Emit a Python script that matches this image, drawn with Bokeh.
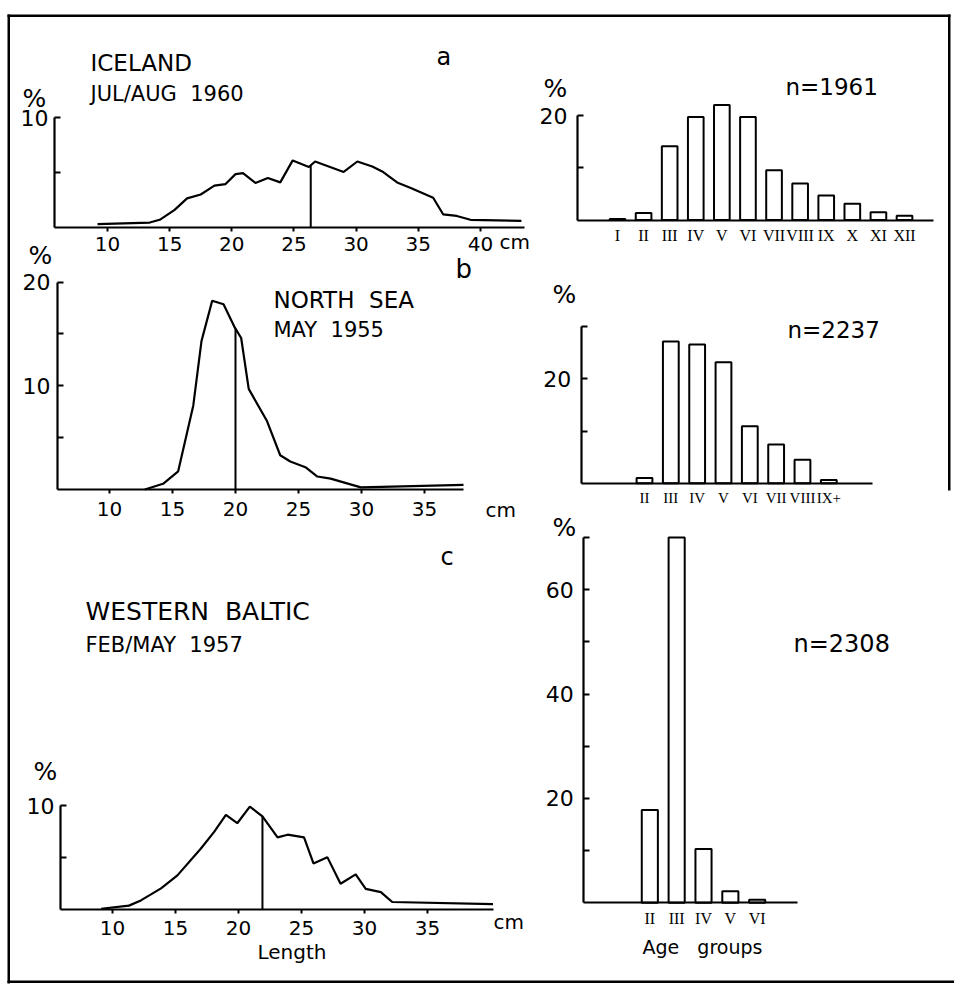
import numpy as np
from bokeh.plotting import figure
from bokeh.models import Range1d, LinearAxis, FixedTicker, Label, BoxAnnotation
from bokeh.embed import file_html
from bokeh.resources import INLINE

# ---------------- data ----------------
# a: Iceland, Jul/Aug 1960
len_a = [9.2, 13.4, 14.2, 15.4, 16.4, 17.5, 18.6, 19.5, 20.3, 20.9, 21.9, 22.9, 23.9, 24.9,
         26.2, 26.7, 29.0, 30.1, 31.3, 32.1, 33.3, 34.4, 36.2, 37.0, 38.1, 39.2, 43.3]
pct_a = [0.3, 0.45, 0.7, 1.6, 2.65, 3.0, 3.8, 3.95, 4.85, 4.95, 4.05, 4.5, 4.1, 6.1,
         5.5, 6.0, 5.05, 6.0, 5.55, 5.1, 4.1, 3.6, 2.7, 1.2, 1.05, 0.7, 0.6]
median_a = 26.35
ages_a = ["I", "II", "III", "IV", "V", "VI", "VII", "VIII", "IX", "X", "XI", "XII"]
agepct_a = [0.2, 1.35, 14.1, 19.7, 22.0, 19.7, 9.5, 7.0, 4.7, 3.1, 1.5, 0.8]
n_a = 1961

# b: North Sea, May 1955
len_b = [12.8, 14.25, 15.45, 16.65, 17.3, 18.15, 19.05, 19.95, 20.45, 21.05, 22.5, 23.55,
         24.35, 25.55, 26.5, 27.55, 29.95, 38.1]
pct_b = [0.0, 0.55, 1.75, 8.1, 14.3, 18.2, 17.85, 15.6, 14.6, 9.7, 6.6, 3.3,
         2.7, 2.15, 1.25, 1.05, 0.2, 0.45]
median_b = 20.0
ages_b = ["II", "III", "IV", "V", "VI", "VII", "VIII", "IX+"]
agepct_b = [1.0, 27.2, 26.6, 23.2, 10.9, 7.4, 4.5, 0.6]
n_b = 2237

# c: Western Baltic, Feb/May 1957
len_c = [9.1, 11.3, 12.25, 13.85, 15.15, 17.0, 18.05, 19.0, 19.9, 20.9, 21.9, 23.1, 23.9,
         25.2, 25.95, 27.05, 28.1, 29.3, 30.1, 31.3, 32.2, 40.2]
pct_c = [0.1, 0.4, 0.9, 2.05, 3.3, 5.85, 7.45, 9.1, 8.3, 9.9, 8.95, 6.95, 7.2,
         6.95, 4.45, 5.05, 2.5, 3.4, 2.0, 1.7, 0.75, 0.55]
median_c = 21.9
ages_c = ["II", "III", "IV", "V", "VI"]
agepct_c = [17.8, 70.0, 10.3, 2.2, 0.6]
n_c = 2308

len_ticks_a = [10, 15, 20, 25, 30, 35, 40]
len_ticks_bc = [10, 15, 20, 25, 30, 35]

# ---------------- page / figure ----------------
OX, OY = 0, 0          # page offset of the canvas
W, H = 954, 984

p = figure(width=W, height=H, output_backend="svg", toolbar_location=None,
           x_range=Range1d(OX, OX + W), y_range=Range1d(OY + H, OY),
           x_axis_type=None, y_axis_type=None,
           min_border_left=0, min_border_right=0, min_border_top=0, min_border_bottom=0)
p.outline_line_color = None
p.background_fill_color = "white"
p.border_fill_color = "white"

xr, yr = {}, {}


def add_panel(name, fl, fr, xs, xe, fb, ft, ys, ye):
    """Panel with data x in [xs, xe] over page px [fl, fr], data y in [ys, ye] over page px [fb, ft]."""
    kx = (xe - xs) / (fr - fl)
    ky = (ye - ys) / (fb - ft)
    xr[name] = Range1d(xs - (fl - OX) * kx, xe + (OX + W - fr) * kx)
    yr[name] = Range1d(ys - (OY + H - fb) * ky, ye + (ft - OY) * ky)


FONT = "DejaVu Sans"
SERIF = "Liberation Serif"


def x_axis(name, ticks, lo, hi, overrides=None, font=FONT, size="20px", standoff=5, tick_out=4):
    ax = LinearAxis(x_range_name=name, y_range_name=name, fixed_location=0, bounds=(lo, hi),
                    ticker=FixedTicker(ticks=ticks, minor_ticks=[]))
    ax.axis_line_width = 2.2
    ax.axis_line_color = "black"
    ax.major_tick_out = tick_out
    ax.major_tick_in = 0
    ax.minor_tick_out = 0
    ax.minor_tick_in = 0
    ax.major_tick_line_width = 2
    ax.major_label_standoff = standoff
    ax.major_label_text_font = font
    ax.major_label_text_font_size = size
    ax.major_label_text_color = "black"
    if overrides:
        ax.major_label_overrides = overrides
    p.add_layout(ax, "below")


def y_axis(name, loc, ticks, top, labelled, standoff=6, size="22px"):
    ax = LinearAxis(x_range_name=name, y_range_name=name, fixed_location=loc, bounds=(0, top),
                    ticker=FixedTicker(ticks=ticks, minor_ticks=[]))
    ax.axis_line_width = 2.2
    ax.axis_line_color = "black"
    ax.major_tick_out = 0
    ax.major_tick_in = 6
    ax.minor_tick_out = 0
    ax.minor_tick_in = 0
    ax.major_tick_line_width = 2
    ax.major_label_standoff = standoff
    ax.major_label_text_font = FONT
    ax.major_label_text_font_size = size
    ax.major_label_text_color = "black"
    ax.major_label_overrides = {t: (str(t) if t in labelled else "") for t in ticks}
    p.add_layout(ax, "left")


def length_panel(name, lens, pcts, median):
    p.line(lens, pcts, x_range_name=name, y_range_name=name,
           line_color="black", line_width=2.2)
    top = float(np.interp(median, lens, pcts))
    p.segment(x0=[median], y0=[0], x1=[median], y1=[top], x_range_name=name, y_range_name=name,
              line_color="black", line_width=2)


def age_panel(name, ages, pcts, first):
    pos = list(range(first, first + len(ages)))
    p.vbar(x=pos, top=pcts, bottom=0, width=0.6, x_range_name=name, y_range_name=name,
           fill_color="white", line_color="black", line_width=2)
    return pos


TY = -9  # baseline correction for labels
NB = "\u00a0"  # keeps the wide gaps of the lettering (SVG collapses runs of spaces)


def txt(x, y, s, size, font=FONT, align="left"):
    p.add_layout(Label(x=x, y=y + TY, text=s, text_font=font, text_font_size=f"{size}px",
                       text_baseline="alphabetic", text_align=align, text_color="black"))


# ---- panel a ----
ax0, ax1 = 10 - 53 / 12.43, 10 + 417 / 12.43
add_panel("A1", 54, 524, ax0, ax1, 227, 117, 0, 10)
length_panel("A1", len_a, pct_a, median_a)
x_axis("A1", len_ticks_a, ax0, ax1, standoff=5)
y_axis("A1", ax0, [5, 10], 10, [10])

a0, a1 = 1 - 40 / 26.1, 12 + 29 / 26.1
add_panel("A2", 577, 933, a0, a1, 219.5, 115, 0, 20)
pos_a = age_panel("A2", ages_a, agepct_a, 1)
x_axis("A2", pos_a, a0, a1, overrides=dict(zip(pos_a, ages_a)),
       font=SERIF, size="16px", standoff=7, tick_out=0)
y_axis("A2", a0, [10, 20], 20, [20], standoff=10)

# ---- panel b ----
bx0, bx1 = 5.87, 38.1
add_panel("B1", 57, 463, bx0, bx1, 489, 281.5, 0, 20)
length_panel("B1", len_b, pct_b, median_b)
x_axis("B1", len_ticks_bc, bx0, bx1, standoff=8)
y_axis("B1", bx0, [5, 10, 15, 20], 20, [10, 20], standoff=7)

b0, b1 = 2 - 63.3 / 26.33, 9 + 43.4 / 26.33
add_panel("B2", 580.7, 871.7, b0, b1, 482.7, 326.3, 0, 30)
pos_b = age_panel("B2", ages_b, agepct_b, 2)
x_axis("B2", pos_b, b0, b1, overrides=dict(zip(pos_b, ages_b)),
       font=SERIF, size="15px", standoff=7, tick_out=0)
y_axis("B2", b0, [10, 20, 30], 30, [20], standoff=10)

# ---- panel c ----
cx0, cx1 = 5.87, 40.24
add_panel("C1", 60, 493, cx0, cx1, 909.3, 805, 0, 10)
length_panel("C1", len_c, pct_c, median_c)
x_axis("C1", len_ticks_bc, cx0, cx1, standoff=7)
y_axis("C1", cx0, [5, 10], 10, [10], standoff=6)

c0, c1 = 2 - 66 / 26.83, 6 + 40 / 26.83
add_panel("C2", 583.3, 796.7, c0, c1, 902.3, 537, 0, 70)
pos_c = age_panel("C2", ages_c, agepct_c, 2)
x_axis("C2", pos_c, c0, c1, overrides=dict(zip(pos_c, ages_c)),
       font=SERIF, size="16px", standoff=7, tick_out=0)
y_axis("C2", c0, [10, 20, 30, 40, 50, 60, 70], 70, [20, 40, 60], standoff=10)

p.extra_x_ranges = xr
p.extra_y_ranges = yr

# ---- texts ----
txt(90, 71, "ICELAND", 23)
txt(90, 102, "JUL/AUG" + NB + " 1960", 21)
txt(436, 65, "a", 24)
txt(22, 107, "%", 25)
txt(499, 250, "cm", 20)
txt(543, 97, "%", 25)
txt(785, 95, f"n={n_a}", 23)

txt(28, 264, "%", 25)
txt(455, 277, "b", 26)
txt(273, 308, "NORTH" + NB + " SEA", 23)
txt(273, 338, "MAY" + NB + " 1955", 21)
txt(485, 518, "cm", 20)
txt(552, 303, "%", 25)
txt(787, 338, f"n={n_b}", 23)

txt(440, 565, "c", 24)
txt(85, 620, "WESTERN" + NB + " BALTIC", 25)
txt(85, 653, "FEB/MAY" + NB + " 1957", 21)
txt(33, 780, "%", 25)
txt(257, 960, "Length", 20)
txt(493, 930, "cm", 20)
txt(552, 536, "%", 25)
txt(793, 652, f"n={n_c}", 24)
txt(642, 955, "Age" + NB + NB + " groups", 19)

# ---- frame lines ----
for l, r, t, b in [(7, 950, 14, 16.5), (7, 9.5, 14, 983), (7, 954, 980, 982.5), (947.5, 950, 14, 490)]:
    p.add_layout(BoxAnnotation(left=l, right=r, top=t, bottom=b, fill_color="black",
                               fill_alpha=1, line_color=None, level="overlay"))

open("out.html", "w").write(file_html(p, INLINE))
